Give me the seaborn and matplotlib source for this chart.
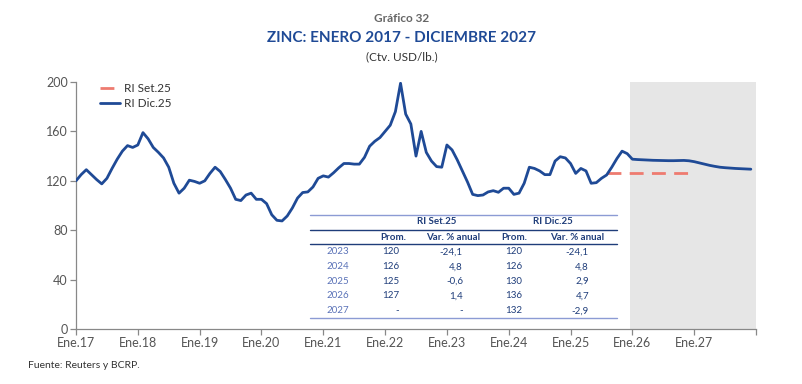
import numpy as np
import pandas as pd
import matplotlib
matplotlib.use("Agg")
import matplotlib.pyplot as plt
from matplotlib.lines import Line2D
import seaborn as sns

# ---------------- data ----------------
# Monthly zinc price, Jan 2017 - Dec 2027 (ctv. USD/lb), RI Dic.25
dic25 = [
    120, 125, 129, 125, 121, 117.5, 122, 130, 137.5, 144, 148.5, 147,      # 2017
    149, 159, 154, 147, 143, 138.5, 131, 118, 110, 114, 120.5, 119.5,      # 2018
    118, 120, 126, 131, 127.5, 121, 114, 105, 104, 108.5, 110, 105,        # 2019
    105, 101.5, 92.5, 88, 87.5, 91.5, 98, 106, 110.5, 111, 115, 122,       # 2020
    124, 123, 126.5, 130.5, 134, 134, 133.5, 133.5, 139, 148, 152, 155,    # 2021
    160, 165, 176, 199, 174, 166, 140, 160, 143, 136, 131.5, 131,          # 2022
    149, 145, 137, 128, 119, 109, 108, 108.5, 111, 112, 110.7, 114,        # 2023
    114, 109, 110, 118, 131, 130, 128, 125, 125, 136, 139.5, 138.5,        # 2024
    134, 126, 130, 128, 118, 118.5, 122, 124.7, 131, 138, 144, 142,        # 2025
    137.5, 137.2, 137, 136.8, 136.6, 136.5, 136.4, 136.3, 136.3, 136.4, 136.5, 136.2,  # 2026
    135.5, 134.5, 133.5, 132.5, 131.7, 131, 130.6, 130.3, 130, 129.8, 129.6, 129.4,    # 2027
]
# RI Set.25 forecast (Aug 2025 - Dec 2026)
set25_start = 103
set25 = [126.3] * 17

tick_labels = ["Ene.17", "Ene.18", "Ene.19", "Ene.20", "Ene.21", "Ene.22",
               "Ene.23", "Ene.24", "Ene.25", "Ene.26", "Ene.27", ""]

tbl_years = ["2023", "2024", "2025", "2026", "2027"]
tbl_set_prom = ["120", "126", "125", "127", "-"]
tbl_set_var = ["-24,1", "4,8", "-0,6", "1,4", "-"]
tbl_dic_prom = ["120", "126", "130", "136", "132"]
tbl_dic_var = ["-24,1", "4,8", "2,9", "4,7", "-2,9"]

# ---------------- style ----------------
sns.set_style("white")
plt.rcParams["font.family"] = ["Lato", "DejaVu Sans"]

W, H = 803, 384
fig = plt.figure(figsize=(W / 100, H / 100), dpi=100)

def fx(x):
    return x / W

def fy(y):
    return 1 - y / H

ax = fig.add_axes([fx(76), fy(329), fx(756) - fx(76), fy(82) - fy(329)])

NAVY = "#1F4A96"
RED = "#EE7B70"
GRAY = "#555555"

df_dic = pd.DataFrame({"mes": np.arange(len(dic25)), "valor": dic25})
df_set = pd.DataFrame({"mes": np.arange(set25_start, set25_start + len(set25)), "valor": set25})

ax.axvspan(107.5, 132, color="#E6E6E6", lw=0, zorder=0)

sns.lineplot(data=df_set, x="mes", y="valor", ax=ax, color=RED, lw=2.0,
             dashes=False, label="RI Set.25", zorder=2)
ax.lines[-1].set_dashes((5, 3))
sns.lineplot(data=df_dic, x="mes", y="valor", ax=ax, color=NAVY, lw=2.0,
             label="RI Dic.25", zorder=3)

ax.set_xlim(0, 132)
ax.set_ylim(0, 200)
ax.set_yticks([0, 40, 80, 120, 160, 200])
ax.set_xticks(np.arange(0, 133, 12))
ax.set_xticklabels(tick_labels)
ax.set_xlabel("")
ax.set_ylabel("")
for s in ["top", "right"]:
    ax.spines[s].set_visible(False)
for s in ["left", "bottom"]:
    ax.spines[s].set_color("#888888")
    ax.spines[s].set_linewidth(0.9)
ax.tick_params(axis="both", direction="out", length=4, width=0.9, color="#888888",
               labelsize=9, labelcolor=GRAY, pad=2)
ax.tick_params(axis="x", bottom=True)
ax.tick_params(axis="y", left=True)

leg = ax.legend(loc="upper left", bbox_to_anchor=(0.02, 1.04), frameon=False,
                fontsize=8.5, handlelength=1.7, handletextpad=0.3, labelspacing=0.35)
for t in leg.get_texts():
    t.set_color("#333333")

# ---------------- titles ----------------
fig.text(0.5, fy(18), "Gráfico 32", ha="center", va="center", fontsize=8.5,
         color="#666666", fontweight="bold")
fig.text(0.5, fy(38), "ZINC: ENERO 2017 - DICIEMBRE 2027", ha="center", va="center",
         fontsize=11, color=NAVY, fontweight="bold")
fig.text(0.5, fy(57), "(Ctv. USD/lb.)", ha="center", va="center", fontsize=8.5,
         color="#333333")
fig.text(fx(28), fy(365), "Fuente: Reuters y BCRP.", ha="left", va="center",
         fontsize=7.5, color="#333333")

# ---------------- table ----------------
TNAVY = "#1F3D7A"
TLIGHT = "#5B73B8"
x0, x1 = 310, 617
for yy, col in [(214.5, "#8C9BD4"), (229.7, TNAVY), (244, TNAVY), (318, "#8C9BD4")]:
    fig.add_artist(Line2D([fx(x0), fx(x1)], [fy(yy), fy(yy)], color=col, lw=1.0))
fs = 7
fig.text(fx(437), fy(221.5), "RI Set.25", ha="center", va="center", fontsize=fs,
         color=TNAVY, fontweight="bold")
fig.text(fx(553), fy(221.5), "RI Dic.25", ha="center", va="center", fontsize=fs,
         color=TNAVY, fontweight="bold")
for xc, lab in [(393, "Prom."), (453, "Var. % anual"), (514, "Prom."), (577, "Var. % anual")]:
    fig.text(fx(xc), fy(237), lab, ha="center", va="center", fontsize=fs,
             color=TNAVY, fontweight="bold")
rows_y = [252, 266.7, 281.3, 296, 310.7]
for i, yy in enumerate(rows_y):
    fig.text(fx(338), fy(yy), tbl_years[i], ha="center", va="center", fontsize=fs, color=TLIGHT)
    fig.text(fx(399), fy(yy), tbl_set_prom[i], ha="right", va="center", fontsize=fs, color=TNAVY)
    fig.text(fx(463), fy(yy), tbl_set_var[i], ha="right", va="center", fontsize=fs, color=TNAVY)
    fig.text(fx(522), fy(yy), tbl_dic_prom[i], ha="right", va="center", fontsize=fs, color=TNAVY)
    fig.text(fx(589), fy(yy), tbl_dic_var[i], ha="right", va="center", fontsize=fs, color=TNAVY)

fig.savefig("out.png", dpi=100)
